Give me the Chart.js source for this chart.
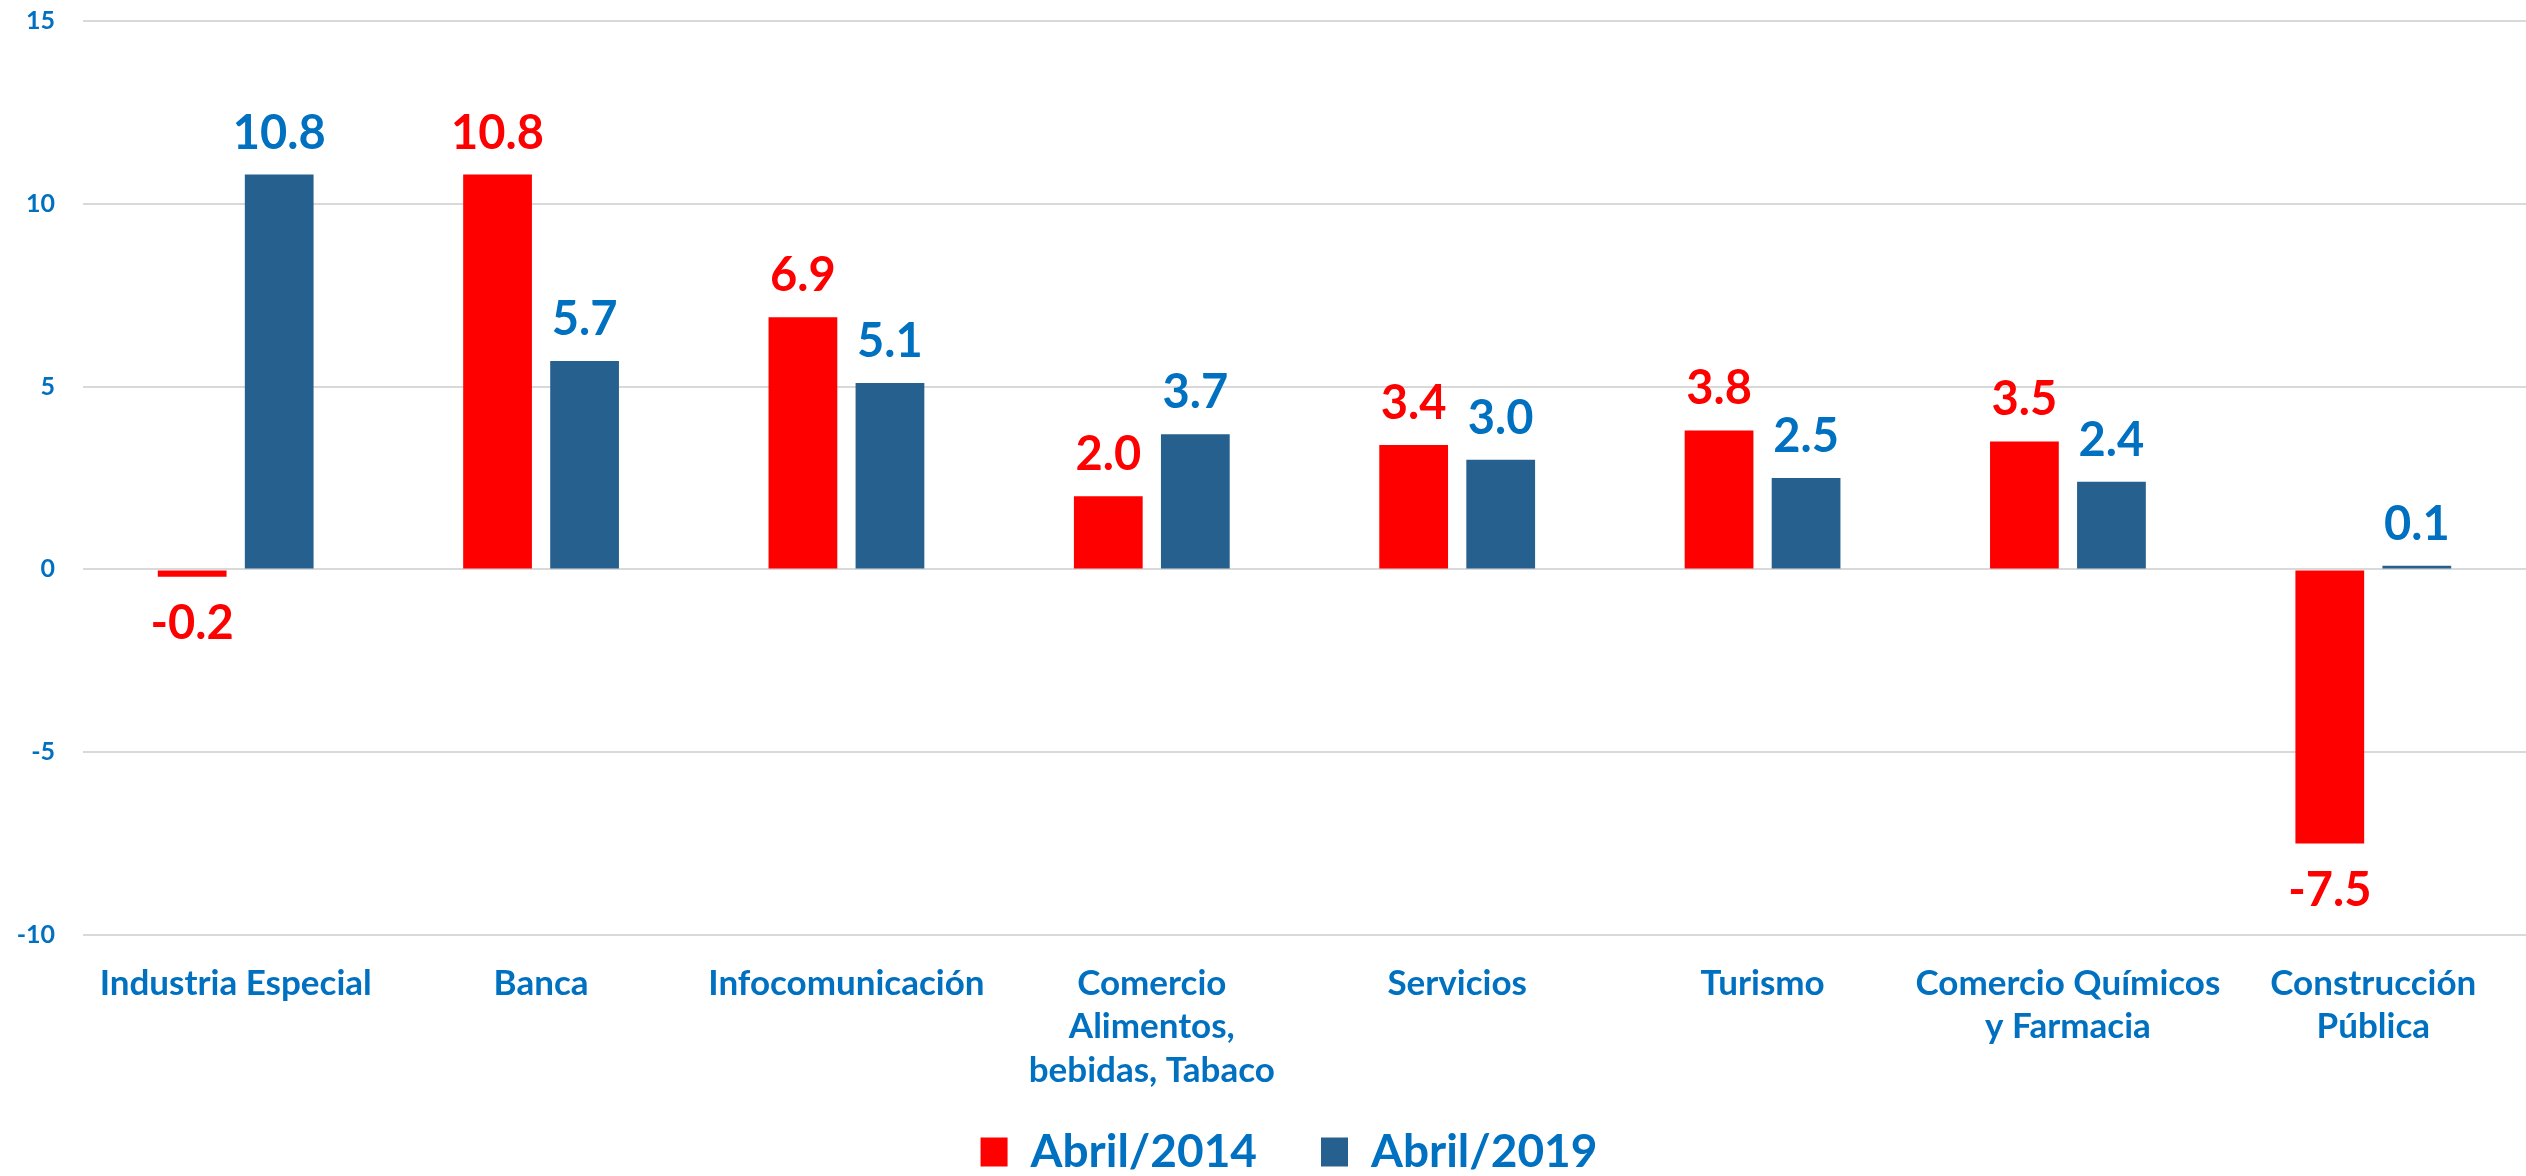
<!DOCTYPE html>
<html>
<head>
<meta charset="utf-8">
<script src="https://cdn.jsdelivr.net/npm/chart.js@4.4.1/dist/chart.umd.min.js"></script>
<style>
  html, body { margin: 0; padding: 0; background: #fff; }
  #wrap { width: 2526px; height: 1176px; }
</style>
</head>
<body>
<div id="wrap"><canvas id="grafica"></canvas></div>
<script>
var sectores = [
    'Industria Especial',
    'Banca',
    'Infocomunicación',
    ['Comercio', 'Alimentos,', 'bebidas, Tabaco'],
    'Servicios',
    'Turismo',
    ['Comercio Químicos', 'y Farmacia'],
    ['Construcción', 'Pública']
]
var abril2014 = [-0.2, 10.8, 6.9, 2.0, 3.4, 3.8, 3.5, -7.5]
var abril2019 = [10.8, 5.7, 5.1, 3.7, 3.0, 2.5, 2.4, 0.1]
var ticksY = [-10, -5, 0, 5, 10, 15]

var azulTexto = '#0070C0'
var coloresEtiqueta = ['#FF0000', '#0070C0']
var fuente = 'Lato'

// etiquetas de valor encima / debajo de cada barra
var etiquetasValor = {
    id: 'etiquetasValor',
    afterLayout(chart) {
        // la leyenda de Chart.js queda corrida a la izquierda medio padding
        var p = chart.legend.options.labels.padding / 2 - 6
        chart.legend.left += p
        chart.legend.right += p
    },
    afterDatasetsDraw(chart) {
        var ctx = chart.ctx
        chart.data.datasets.forEach((ds, i) => {
            var meta = chart.getDatasetMeta(i)
            meta.data.forEach((bar, j) => {
                var v = ds.data[j]
                ctx.save()
                ctx.font = 'bold 47px ' + fuente
                ctx.fillStyle = coloresEtiqueta[i]
                ctx.textAlign = 'center'
                ctx.textBaseline = 'alphabetic'
                if (v >= 0) {
                    ctx.fillText(v.toFixed(1), bar.x, Math.min(bar.y, bar.base) - 26)
                } else {
                    ctx.fillText(v.toFixed(1), bar.x, Math.max(bar.y, bar.base) + 28 + 34)
                }
                ctx.restore()
            })
        })
    }
}

const ctx = document.getElementById('grafica')
const grafica = new Chart(ctx, {
    type: 'bar',
    data: {
        labels: sectores,
        datasets: [
            { label: 'Abril/2014', data: abril2014, backgroundColor: '#FF0000' },
            { label: 'Abril/2019', data: abril2019, backgroundColor: '#26608F' }
        ]
    },
    options: {
        responsive: true,
        maintainAspectRatio: false,
        devicePixelRatio: 1,
        animation: false,
        layout: { padding: { top: 21, left: 0, right: 0, bottom: -9 } },
        datasets: {
            bar: { categoryPercentage: 0.57, barPercentage: 0.79 }
        },
        scales: {
            y: {
                min: -10,
                max: 15,
                afterBuildTicks(scale) {
                    scale.ticks = ticksY.map(v => ({ value: v }))
                },
                afterFit(scale) {
                    scale.width = 83
                    scale.paddingTop = 0
                    scale.paddingBottom = 0
                },
                grid: { color: '#D9D9D9', lineWidth: 2, drawTicks: false },
                border: { display: false },
                ticks: {
                    padding: 28,
                    color: azulTexto,
                    font: { family: fuente, size: 25, weight: 'bold' }
                }
            },
            x: {
                afterFit(scale) {
                    scale.height = 130
                    // que la tercera línea no se recorte
                    scale._computeLabelArea = () => undefined
                },
                grid: { display: false },
                border: { display: false },
                ticks: {
                    padding: 19,
                    maxRotation: 0,
                    autoSkip: false,
                    color: azulTexto,
                    font: { family: fuente, size: 35, weight: 'bold', lineHeight: 1.24 }
                }
            }
        },
        plugins: {
            tooltip: { enabled: false },
            legend: {
                position: 'bottom',
                labels: {
                    boxWidth: 27,
                    boxHeight: 29,
                    padding: 64,
                    color: azulTexto,
                    font: { family: fuente, size: 46, weight: 'bold' }
                }
            }
        }
    },
    plugins: [etiquetasValor]
})
</script>
</body>
</html>
